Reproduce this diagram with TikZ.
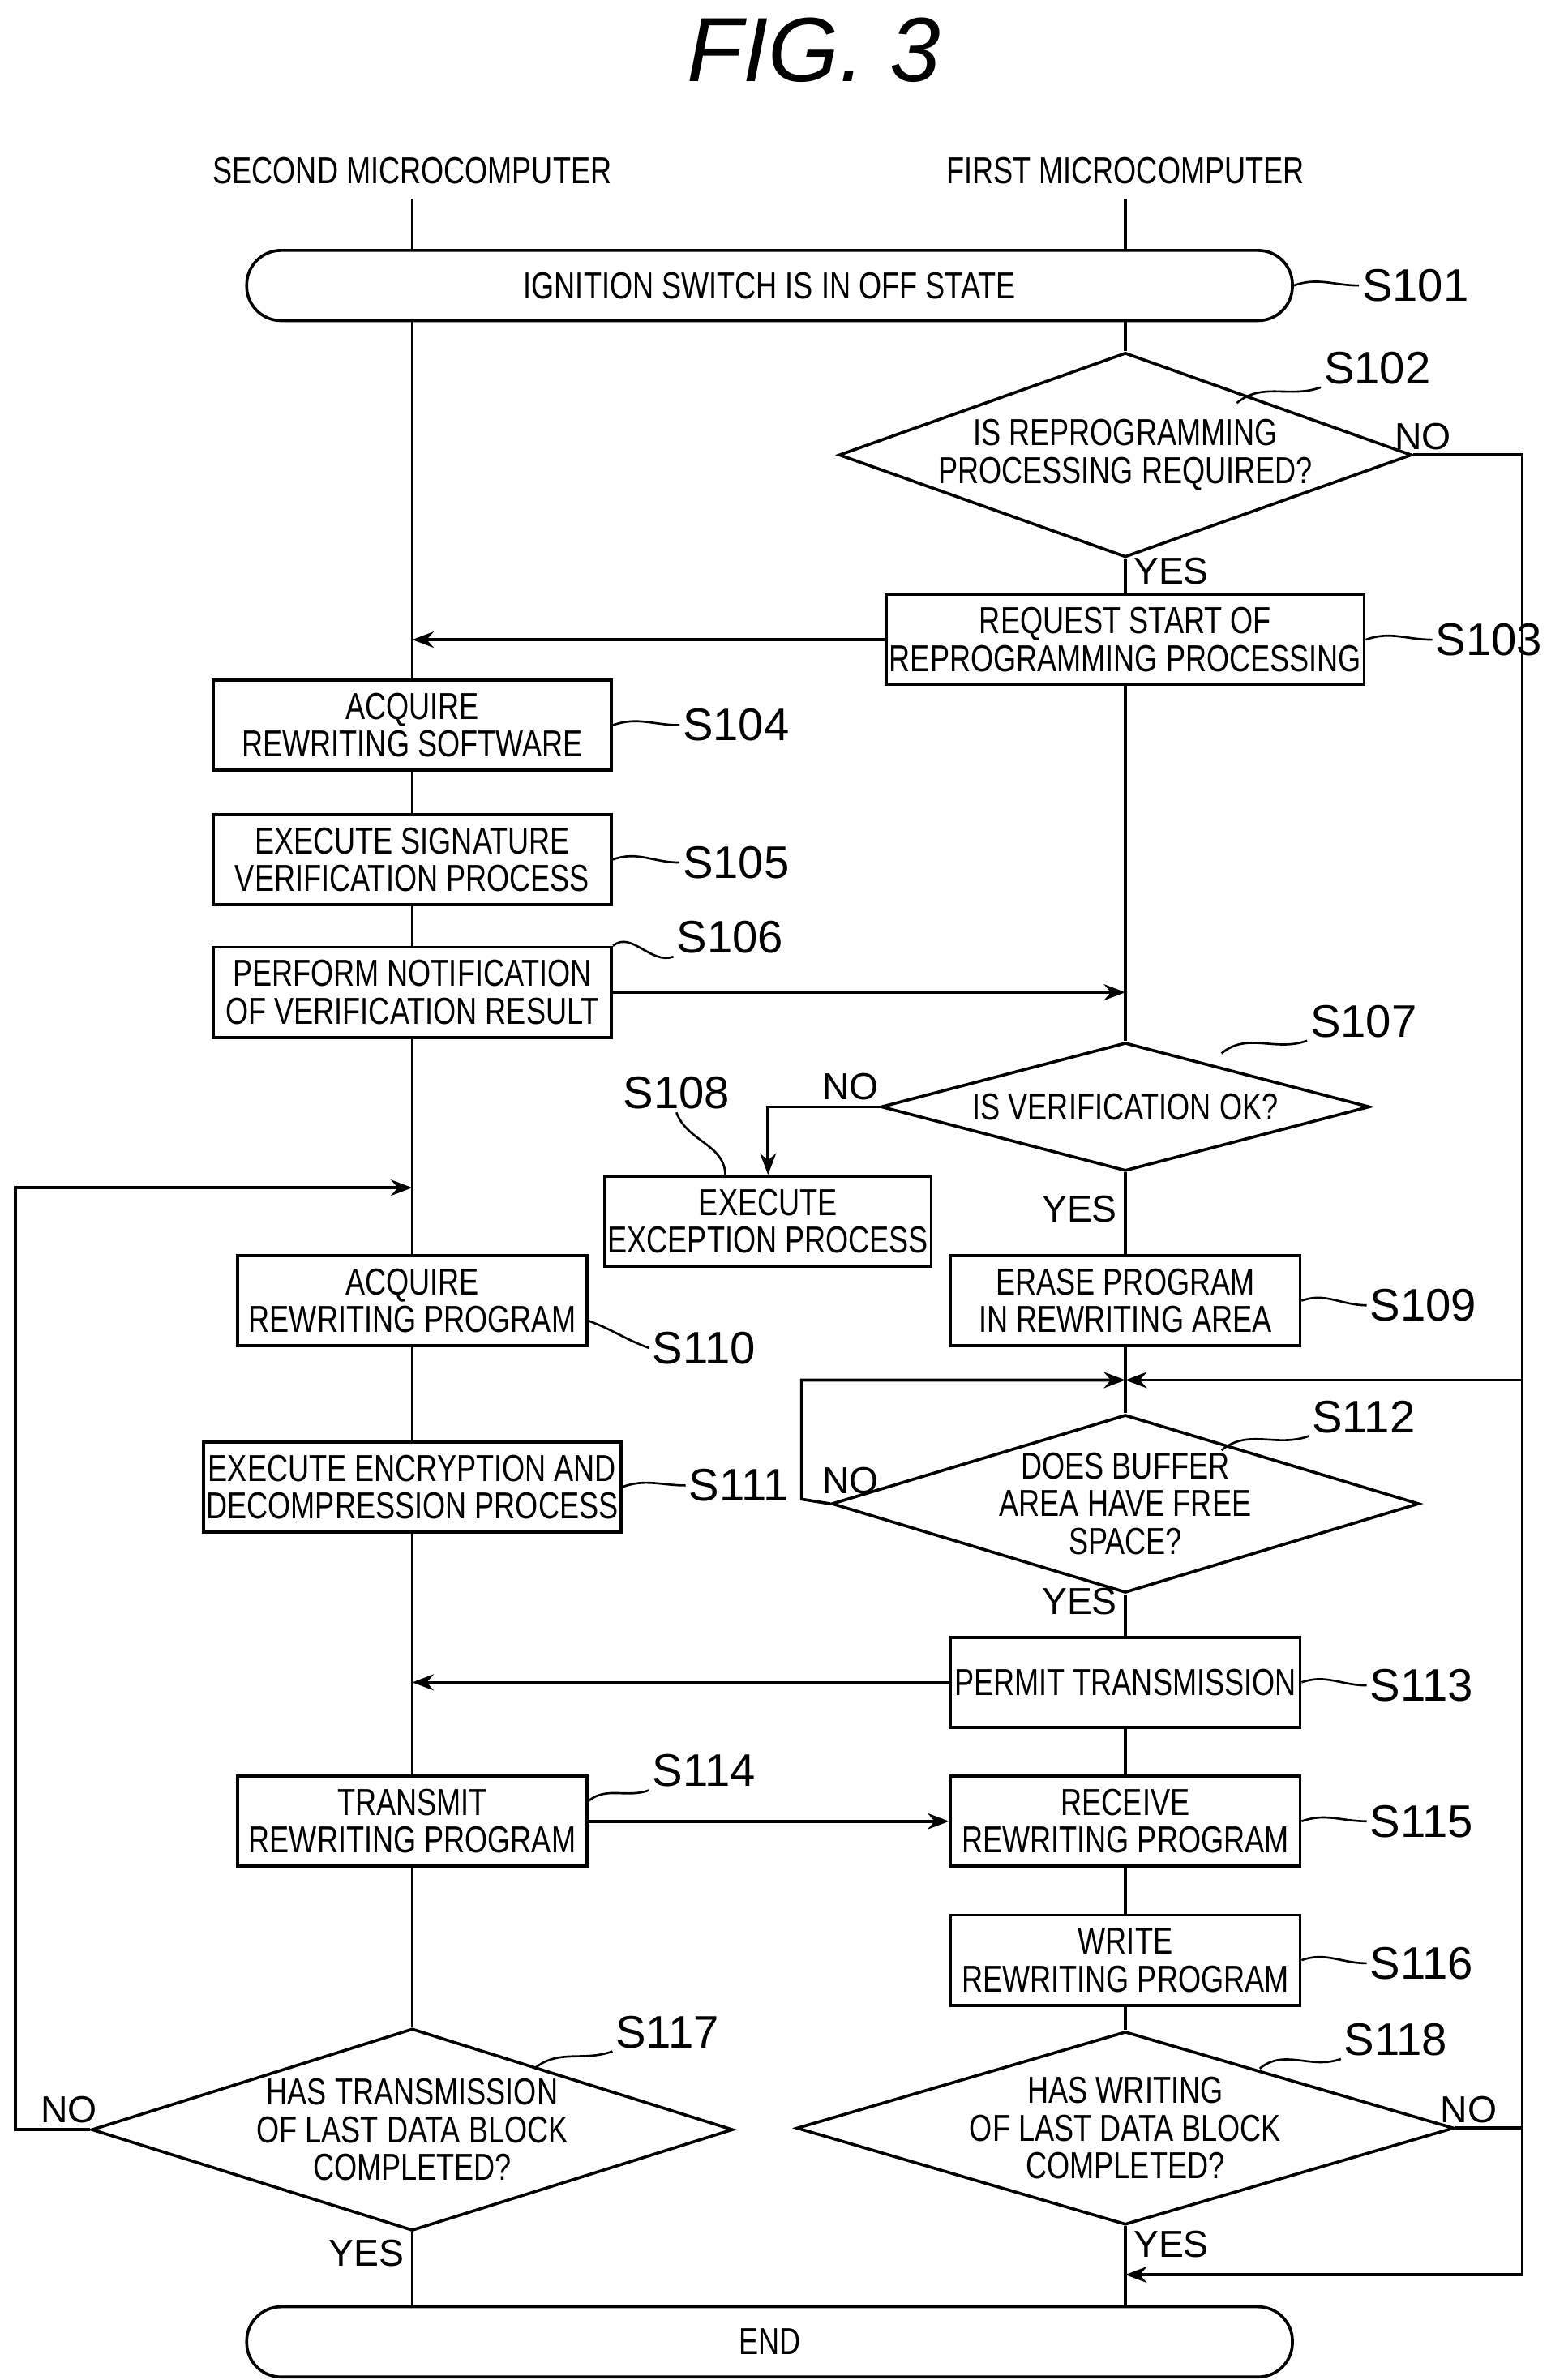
\documentclass[tikz,border=0pt]{standalone}
\usepackage{fontspec}
\setmainfont{Liberation Sans}[FakeStretch=0.78]
\newfontfamily\stepfont{Liberation Sans}
\usetikzlibrary{shapes.geometric, arrows.meta, positioning}
\tikzstyle{box} = [rectangle, draw=black, line width=1.1pt, fill=white, align=center, minimum height=1.18cm, inner sep=1pt, font=\fontsize{14}{14}\selectfont]
\tikzstyle{term} = [rectangle, rounded corners=0.45cm, draw=black, line width=1.1pt, fill=white, minimum width=13.7cm, minimum height=0.92cm, font=\fontsize{14}{14}\selectfont]
\tikzstyle{decision} = [diamond, draw=black, line width=1.1pt, fill=white, align=center, inner sep=0pt, font=\fontsize{14}{14}\selectfont]
\tikzstyle{arrow} = [line width=1.1pt, -{Stealth[length=8pt,width=6pt]}]
\tikzstyle{link} = [line width=1.1pt, -]
\tikzstyle{steptag} = [font=\stepfont\fontsize{17}{17}\selectfont, inner sep=1pt]
\tikzstyle{tag} = [line width=0.8pt, -]
\tikzstyle{ans} = [font=\stepfont\fontsize{14}{14}\selectfont, inner sep=1pt]
\begin{document}
\begin{tikzpicture}[x=0.02cm, y=-0.02cm]
\useasboundingbox (0,0) rectangle (1024,1559);
\node (title) at (533,33) {\stepfont\itshape\fontsize{34}{34}\selectfont FIG. 3};
\node (second) at (270,112) {\fontsize{14}{14}\selectfont SECOND MICROCOMPUTER};
\node (first) at (737,112) {\fontsize{14}{14}\selectfont FIRST MICROCOMPUTER};
% nodes
\node (s101) [term] at (504,187) {IGNITION SWITCH IS IN OFF STATE};
\node (s102) [decision, aspect=2.8, minimum width=6.9cm] at (737,298) {IS REPROGRAMMING\\PROCESSING REQUIRED?};
\node (s103) [box, minimum width=6.26cm] at (737,419) {REQUEST START OF\\REPROGRAMMING PROCESSING};
\node (s104) [box, minimum width=5.22cm] at (270,475) {ACQUIRE\\REWRITING SOFTWARE};
\node (s105) [box, minimum width=5.22cm] at (270,563) {EXECUTE SIGNATURE\\VERIFICATION PROCESS};
\node (s106) [box, minimum width=5.22cm] at (270,650) {PERFORM NOTIFICATION\\OF VERIFICATION RESULT};
\node (s107) [decision, aspect=3, minimum width=6.4cm] at (737,725) {IS VERIFICATION OK?};
\node (s108) [box, minimum width=4.18cm] at (503,800) {EXECUTE\\EXCEPTION PROCESS};
\node (s109) [box, minimum width=4.58cm] at (737,852) {ERASE PROGRAM\\IN REWRITING AREA};
\node (s110) [box, minimum width=4.58cm] at (270,852) {ACQUIRE\\REWRITING PROGRAM};
\node (s111) [box, minimum width=5.42cm] at (270,974) {EXECUTE ENCRYPTION AND\\DECOMPRESSION PROCESS};
\node (s112) [decision, aspect=3.3, minimum width=6.4cm] at (737,985) {DOES BUFFER\\AREA HAVE FREE\\SPACE?};
\node (s113) [box, minimum width=4.58cm] at (737,1102) {PERMIT TRANSMISSION};
\node (s114) [box, minimum width=4.58cm] at (270,1193) {TRANSMIT\\REWRITING PROGRAM};
\node (s115) [box, minimum width=4.58cm] at (737,1193) {RECEIVE\\REWRITING PROGRAM};
\node (s116) [box, minimum width=4.58cm] at (737,1284) {WRITE\\REWRITING PROGRAM};
\node (s117) [decision, aspect=3.1, minimum width=8.4cm] at (270,1395) {HAS TRANSMISSION\\OF LAST DATA BLOCK\\COMPLETED?};
\node (s118) [decision, aspect=3.4, minimum width=8.4cm] at (737,1394) {HAS WRITING\\OF LAST DATA BLOCK\\COMPLETED?};
\node (end) [term] at (504,1534) {END};
% helper points
\coordinate (c102) at (997,298);
\coordinate (c102b) at (997,1490);
\coordinate (m1490) at (737,1490);
\coordinate (c107) at (503,725);
\coordinate (c117a) at (10,1395);
\coordinate (c117b) at (10,778);
\coordinate (m778) at (270,778);
\coordinate (c112a) at (525,982);
\coordinate (c112b) at (525,904);
\coordinate (m904) at (737,904);
\coordinate (c118a) at (997,1394);
\coordinate (c118b) at (997,904);
% lanes
\draw [link] (second.south |- 0,130) -- (second.south |- s101.north);
\draw [link] (first.south |- 0,130) -- (first.south |- s101.north);
\draw [link] (s101.south -| s104) -- (s104.north);
\draw [link] (s104) -- (s105);
\draw [link] (s105) -- (s106);
\draw [link] (s106) -- (s110);
\draw [link] (s110) -- (s111);
\draw [link] (s111) -- (s114);
\draw [link] (s114) -- (s117);
\draw [link] (s117) -- (s117.south |- end.north);
\draw [link] (s101.south -| s102) -- (s102.north);
\draw [link] (s102) -- (s103);
\draw [link] (s103) -- (s107);
\draw [link] (s107) -- (s109);
\draw [link] (s109) -- (s112);
\draw [link] (s112) -- (s113);
\draw [link] (s113) -- (s115);
\draw [link] (s115) -- (s116);
\draw [link] (s116) -- (s118);
\draw [link] (s118) -- (s118.south |- end.north);
% branches
\draw [arrow] (s102.east) -- (c102) -- (c102b) -- (m1490);
\draw [arrow] (s103.west) -- (s103.west -| s104);
\draw [arrow] (s106.east) -- (s106.east -| s107);
\draw [arrow] (s107.west) -- (c107) -- (s108.north);
\draw [arrow] (s117.west) -- (c117a) -- (c117b) -- (m778);
\draw [arrow] (s112.west) -- (c112a) -- (c112b) -- (m904);
\draw [arrow] (s118.east) -- (c118a) -- (c118b) -- (m904);
\draw [arrow] (s113.west) -- (s113.west -| s104);
\draw [arrow] (s114) -- (s115);
% answers
\node [ans] at (932,286) {NO};
\node [ans] at (767,374) {YES};
\node [ans] at (557,712) {NO};
\node [ans] at (707,792) {YES};
\node [ans] at (557,970) {NO};
\node [ans] at (707,1049) {YES};
\node [ans] at (962,1382) {NO};
\node [ans] at (45,1382) {NO};
\node [ans] at (240,1476) {YES};
\node [ans] at (767,1470) {YES};
% step tags
\node (t101) [steptag, anchor=west] at (890,187) {S101};
\node (t102) [steptag] at (902,241) {S102};
\node (t103) [steptag, anchor=west] at (938,419) {S103};
\node (t104) [steptag, anchor=west] at (445,475) {S104};
\node (t105) [steptag, anchor=west] at (445,565) {S105};
\node (t106) [steptag] at (478,614) {S106};
\node (t107) [steptag] at (893,669) {S107};
\node (t108) [steptag] at (443,716) {S108};
\node (t109) [steptag, anchor=west] at (895,855) {S109};
\node (t110) [steptag] at (461,883) {S110};
\node (t111) [steptag, anchor=west] at (449,973) {S111};
\node (t112) [steptag] at (893,928) {S112};
\node (t113) [steptag, anchor=west] at (895,1104) {S113};
\node (t114) [steptag] at (461,1160) {S114};
\node (t115) [steptag, anchor=west] at (895,1193) {S115};
\node (t116) [steptag, anchor=west] at (895,1286) {S116};
\node (t117) [steptag] at (437,1331) {S117};
\node (t118) [steptag] at (914,1336) {S118};
\draw [tag] (s101.east) to[out=20,in=180] (t101.west);
\draw [tag] (810,264) to[out=40,in=200] (t102.south west);
\draw [tag] (s103.east) to[out=20,in=180] (t103.west);
\draw [tag] (s104.east) to[out=20,in=180] (t104.west);
\draw [tag] (s105.east) to[out=20,in=180] (t105.west);
\draw [tag] (s106.north east) to[out=40,in=200] (t106.south west);
\draw [tag] (800,690) to[out=40,in=200] (t107.south west);
\draw [tag] (t108.south) to[out=-70,in=90] (475,770);
\draw [tag] (s109.east) to[out=20,in=180] (t109.west);
\draw [tag] (385,865) to[out=-20,in=160] (t110.west);
\draw [tag] (s111.east) to[out=20,in=180] (t111.west);
\draw [tag] (800,950) to[out=40,in=200] (t112.south west);
\draw [tag] (s113.east) to[out=20,in=180] (t113.west);
\draw [tag] (385,1180) to[out=40,in=200] (t114.south west);
\draw [tag] (s115.east) to[out=20,in=180] (t115.west);
\draw [tag] (s116.east) to[out=20,in=180] (t116.west);
\draw [tag] (350,1355) to[out=40,in=200] (t117.south west);
\draw [tag] (825,1355) to[out=40,in=200] (t118.south west);
\end{tikzpicture}
\end{document}
